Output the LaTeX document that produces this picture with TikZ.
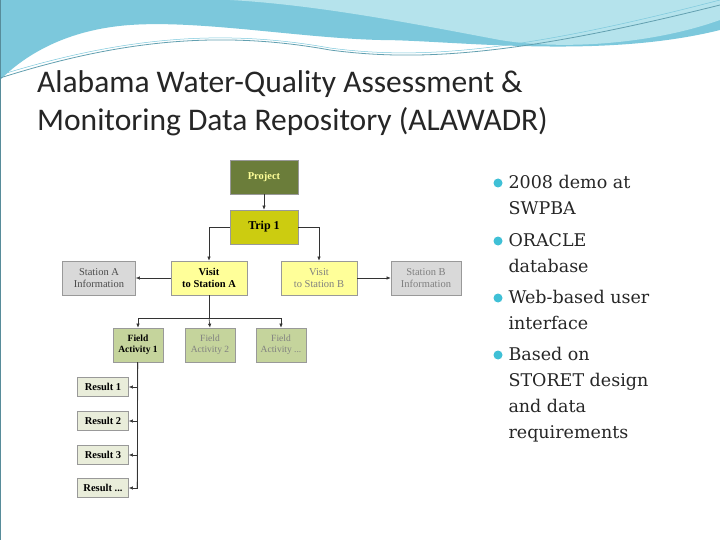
\documentclass[tikz,border=0pt]{standalone}
\usepackage{fontspec}
\setmainfont{Liberation Serif}
\newfontfamily\titlefont{Carlito}
\newfontfamily\bulfont{DejaVu Serif}
\usetikzlibrary{arrows.meta}
\definecolor{proj}{HTML}{6B7D3A}
\definecolor{trip}{HTML}{CCCC10}
\definecolor{visit}{HTML}{FFFF99}
\definecolor{stat}{HTML}{D9D9D9}
\definecolor{fld}{HTML}{C5D49C}
\definecolor{res}{HTML}{E9EDDA}
\definecolor{wave}{HTML}{7CC8DC}
\definecolor{wave2}{HTML}{B5E3EC}
\definecolor{bul}{HTML}{3FC0D6}
\tikzset{
 bx/.style={draw=gray!80, line width=0.7pt, minimum height=#1, align=center, inner sep=1pt, font=\fontsize{10.5}{12}\selectfont},
 bx/.default=34pt,
 con/.style={draw=black!80, line width=0.6pt, -{Latex[length=4pt,width=3.5pt]}},
 btxt/.style={anchor=north west, font=\bulfont\fontsize{17.5}{26}\selectfont, align=left, text=black!85},
}
\begin{document}
\begin{tikzpicture}[x=1pt,y=-1pt]
\useasboundingbox (0,0) rectangle (720,540);
\fill[white] (0,0) rectangle (720,540);
% header waves
\fill[wave] (0,0) -- (720,0) -- (720,30) .. controls (600,60) and (450,40) .. (380,40) .. controls (300,38) and (200,20) .. (130,25) .. controls (60,30) and (20,60) .. (0,80) -- cycle;
\fill[wave2] (230,0) -- (720,0) -- (720,20) .. controls (650,45) and (560,50) .. (500,40) .. controls (420,25) and (320,5) .. (230,0) -- cycle;
\draw[wave!80!black, line width=0.8pt] (0,78) .. controls (120,40) and (220,30) .. (330,50) .. controls (420,62) and (520,55) .. (720,5);
\draw[wave, line width=0.5pt] (0,75) .. controls (120,38) and (220,28) .. (330,48) .. controls (420,60) and (520,52) .. (720,0);
\draw[wave!70!black, line width=1pt] (0,0) rectangle (720,540);
% title
\node[anchor=west, font=\titlefont\fontsize{31.5}{38}\selectfont, text=black!85, align=left, inner sep=0pt] (title) at (37,103) {Alabama Water-Quality Assessment \&\\Monitoring Data Repository (ALAWADR)};
% panel
\fill[white] (55,150) rectangle (465,505);
% nodes
\node[bx, fill=proj, text=visit, minimum width=68pt] (p) at (264,177) {\textbf{Project}};
\node[bx, fill=trip, minimum width=68pt, font=\fontsize{12}{13}\selectfont] (t) at (264,227) {\textbf{Trip 1}};
\node[bx, fill=visit, minimum width=76pt] (va) at (209,278) {\textbf{Visit}\\\textbf{to Station A}};
\node[bx, fill=visit, text=gray, minimum width=76pt] (vb) at (319,278) {Visit\\to Station B};
\node[bx, fill=stat, text=black!70, minimum width=73pt] (sa) at (99,278) {Station A\\Information};
\node[bx, fill=stat, text=gray, minimum width=70pt] (sb) at (426,278) {Station B\\Information};
\node[bx, fill=fld, minimum width=50pt, font=\fontsize{9.5}{11}\selectfont] (f1) at (138,345) {\textbf{Field}\\\textbf{Activity 1}};
\node[bx, fill=fld, text=gray, minimum width=50pt, font=\fontsize{9.5}{11}\selectfont] (f2) at (210,345) {Field\\Activity 2};
\node[bx, fill=fld, text=gray, minimum width=50pt, font=\fontsize{9.5}{11}\selectfont] (f3) at (281,345) {Field\\Activity ...};
\node[bx=19pt, fill=res, minimum width=51pt] (r1) at (103,387) {\textbf{Result 1}};
\node[bx=19pt, fill=res, minimum width=51pt] (r2) at (103,421) {\textbf{Result 2}};
\node[bx=19pt, fill=res, minimum width=51pt] (r3) at (103,455) {\textbf{Result 3}};
\node[bx=19pt, fill=res, minimum width=51pt] (r4) at (103,488) {\textbf{Result ...}};
% connectors
\draw[con] (p) -- (t);
\draw[con] (t.west) -| (va.north);
\draw[con] (t.east) -| (vb.north);
\draw[con] (va) -- (sa);
\draw[con] (vb) -- (sb);
\coordinate (j) at (209,318);
\draw[draw=black!80, line width=0.6pt] (va.south) -- (j) (f1.north |- j) -- (f3.north |- j);
\draw[con] (f1.north |- j) -- (f1.north);
\draw[con] (j) -- (f2.north);
\draw[con] (f3.north |- j) -- (f3.north);
\coordinate (k) at (137,488);
\draw[draw=gray, line width=0.6pt] (f1.south) -- (k);
\foreach \r in {r1,r2,r3,r4} \draw[con] (f1.south -| k) |- (\r.east);
% bullets
\foreach \y/\n in {183/b1,241/b2,298/b3,355/b4} \fill[bul] (498,\y) circle (4.5pt) coordinate (\n);
\node[btxt] (t1) at (505,172) {2008 demo at\\SWPBA};
\node[btxt] (t2) at (505,230) {ORACLE\\database};
\node[btxt] (t3) at (505,287) {Web-based user\\interface};
\node[btxt] (t4) at (505,344) {Based on\\STORET design\\and data\\requirements};
\end{tikzpicture}
\end{document}
